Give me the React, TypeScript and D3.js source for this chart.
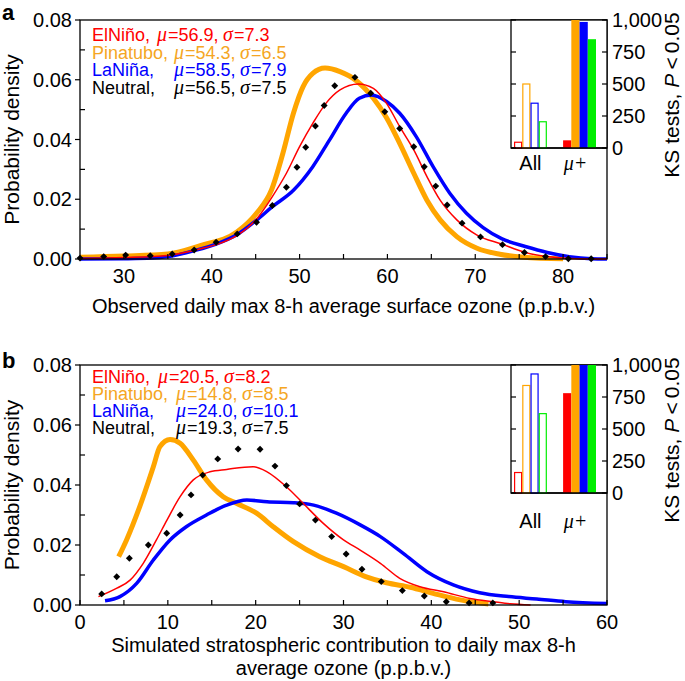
import * as d3 from 'd3';

// ---- panel a: observed MDA8 ozone ----
const elninoA = [[25,0.0002],[30,0.0005],[35,0.0012],[38.7,0.0034],[40.5,0.0048],[42.9,0.0079],[45.1,0.0134],[46.9,0.0209],[48.5,0.0287],[50.0,0.0376],[51.5,0.0454],[53.0,0.0521],[54.6,0.0566],[56.7,0.0586],[58.4,0.0571],[59.9,0.0521],[61.4,0.0443],[63.0,0.0365],[64.5,0.0276],[66.0,0.0197],[67.9,0.0131],[70.2,0.008],[73,0.005],[75.7,0.0022],[78.2,0.0008],[80.7,0.0002],[85,0]];
const pinatuboA = [[25,0.0006],[30,0.001],[35,0.0017],[38.7,0.0045],[42.9,0.0091],[45.1,0.0153],[46.8,0.0231],[48.1,0.0354],[49.3,0.0488],[50.4,0.0577],[51.5,0.0621],[52.9,0.0639],[54.6,0.0627],[56.5,0.0596],[58.4,0.0538],[59.9,0.0473],[61.4,0.0387],[63.0,0.0287],[64.5,0.0197],[66.0,0.0131],[67.9,0.0075],[70.2,0.0036],[72.8,0.0016],[75.5,0.0006],[80,0.0001]];
const laninaA = [[25,0],[30,0.0001],[33.2,0.0003],[35,0.0008],[38,0.0028],[40.5,0.005],[42.9,0.0082],[45.1,0.013],[46.9,0.0175],[49.3,0.023],[51.5,0.0309],[53.4,0.0398],[55.3,0.0488],[56.8,0.0538],[58.2,0.0549],[59.9,0.0527],[61.4,0.0488],[63.3,0.0409],[65.2,0.0309],[67.1,0.022],[69.0,0.0153],[70.9,0.0105],[73,0.0068],[75.7,0.0042],[78.2,0.0022],[80.7,0.0008],[83.2,0.0001],[85,0]];
const neutralA = [[25,0.0003],[27.7,0.0008],[30.2,0.0013],[33,0.0011],[35.5,0.0017],[38,0.003],[40.5,0.0056],[42.9,0.0084],[45.1,0.0123],[46.9,0.0179],[48.5,0.024],[49.7,0.0307],[50.7,0.0374],[51.8,0.0445],[52.8,0.0514],[54.0,0.058],[56.3,0.0608],[58.1,0.0555],[59.7,0.0493],[61.4,0.0437],[63.0,0.0376],[64.2,0.0309],[65.5,0.0244],[66.8,0.0181],[68.5,0.012],[70.6,0.0074],[73.1,0.0048],[75.6,0.0022],[78,0.0008],[80.6,0.0001],[83.2,0.0001]];
const statsA = [['ElNiño', '56.9', '7.3'], ['Pinatubo', '54.3', '6.5'], ['LaNiña', '58.5', '7.9'], ['Neutral', '56.5', '7.5']];
const ksAllA = [45, 500, 350, 205];
const ksMuA = [60, 1000, 985, 850];

// ---- panel b: simulated stratospheric contribution ----
const elninoB = [[2.1,0.0028],[4.2,0.0056],[5.7,0.0083],[7.2,0.0139],[8.7,0.0217],[9.9,0.0283],[11.4,0.0361],[12.9,0.0417],[14.8,0.0444],[16.7,0.0452],[19.7,0.0461],[21.3,0.0444],[23.5,0.0394],[25.4,0.0339],[27.7,0.0272],[30.0,0.0217],[31.9,0.0183],[34.2,0.0139],[36.4,0.0089],[38.7,0.0061],[41.4,0.0044],[44.4,0.0022],[47.1,0.0011],[49.0,0.0004],[51.3,0]];
const pinatuboB = [[4.4,0.0161],[5.3,0.0217],[6.8,0.0328],[8.35,0.0461],[9.1,0.0528],[10.25,0.0552],[11.4,0.0539],[12.9,0.0483],[14.4,0.0417],[16.3,0.0361],[17.8,0.0339],[20.1,0.0306],[22.0,0.0261],[24.3,0.0211],[27.3,0.0161],[30.0,0.0128],[32.6,0.0094],[34.9,0.0074],[37.6,0.0059],[40.2,0.0039],[43.3,0.0017],[46.5,0.0003]];
const laninaB = [[2.85,0.0014],[4.55,0.0028],[6.45,0.0072],[8.35,0.015],[10.25,0.0217],[12.1,0.0261],[14.4,0.03],[16.7,0.0333],[19.0,0.035],[21.3,0.0344],[24.3,0.0341],[26.6,0.0333],[29.2,0.0306],[31.9,0.0267],[34.2,0.0228],[36.8,0.0172],[39.5,0.0111],[42.5,0.0067],[45.5,0.0041],[48.8,0.0028],[52,0.002],[55.3,0.0011],[60,0.0005]];
const neutralB = [[2.47,0.0037],[4.18,0.0094],[5.62,0.0156],[7.78,0.02],[9.87,0.0239],[11.4,0.03],[12.64,0.0367],[13.97,0.0433],[15.68,0.0487],[18.0,0.052],[20.5,0.0519],[22.2,0.0463],[23.5,0.0398],[25.0,0.0337],[26.8,0.0283],[28.65,0.0228],[30.3,0.017],[32.1,0.0119],[34.3,0.0078],[36.7,0.0048],[39.2,0.003],[41.7,0.0011],[44.3,0.0007],[47.0,0.0007]];
const statsB = [['ElNiño', '20.5', '8.2'], ['Pinatubo', '14.8', '8.5'], ['LaNiña', '24.0', '10.1'], ['Neutral', '19.3', '7.5']];
const ksAllB = [160, 840, 930, 620];
const ksMuB = [780, 1000, 1000, 1000];

const insetCats = ['All', 'μ+'];
const yTicks = [0, 0.02, 0.04, 0.06, 0.08];
const yMinor = [0.01, 0.03, 0.05, 0.07];
const ksTicks = [0, 250, 500, 750, 1000];

const colors = ['#ff0000', '#ffa500', '#0000ff', '#000000'];
const legendColors = ['#ff0000', '#f5a623', '#0000ff', '#000000'];
const barColors = ['#ff0000', '#ffa500', '#0000ff', '#00ee00'];

const FONT = "'Liberation Sans', Arial, Helvetica, sans-serif";
const GREEK = "'Liberation Serif', 'Times New Roman', serif";
const LEFT = 80, RIGHT = 607;

const Panel = ({ letter, letterY, bottom, top, xDomain, xTicks, xMinor, curves, dots, stats, muX, legendY, legendStep, ksAll, ksMu, catY, xTitle, titleY }) => {
    const x = d3.scaleLinear().domain(xDomain).range([LEFT, RIGHT]);
    const y = d3.scaleLinear().domain([0, 0.08]).range([bottom, top]);
    const line = d3.line().x((d) => x(d[0])).y((d) => y(d[1])).curve(d3.curveMonotoneX);
    const fmtY = d3.format('.2f');

    const insetLeft = 511;
    const insetBottom = top + 128;
    const iy = d3.scaleLinear().domain([0, 1000]).range([insetBottom, top]);
    const gx = d3.scaleBand().domain(insetCats).range([514, 596]).paddingInner(0.33);
    const sx = d3.scaleBand().domain(d3.range(4).map(String)).range([0, gx.bandwidth()]);
    const diamond = d3.symbol().type(d3.symbolSquare).size(24)();

    // orange first, then blue, red on top
    const order = [1, 2, 0];
    const widths = [1.5, 5, 3.5];

    return (
        <g fontFamily={FONT}>
            <text x={2} y={letterY} fontSize={22} fontWeight="bold">{letter}</text>

            {/* curves */}
            {order.map((i) => (
                <path key={i} d={line(curves[i])} fill="none" stroke={colors[i]} strokeWidth={widths[i]} strokeLinejoin="round" />
            ))}
            {dots.map((d, i) => (
                <path key={i} d={diamond} transform={`translate(${x(d[0])},${y(d[1])}) rotate(45)`} fill="#000" />
            ))}

            {/* frame */}
            <rect x={LEFT} y={top} width={RIGHT - LEFT} height={bottom - top} fill="none" stroke="#000" strokeWidth={1.3} />

            {/* y axis */}
            {yTicks.map((t) => (
                <g key={t}>
                    <line x1={LEFT - 5} x2={LEFT} y1={y(t)} y2={y(t)} stroke="#000" strokeWidth={1.2} />
                    <text x={LEFT - 8} y={y(t) + 7} textAnchor="end" fontSize={20}>{fmtY(t)}</text>
                </g>
            ))}
            {yMinor.map((t) => (
                <line key={t} x1={LEFT} x2={LEFT + 5} y1={y(t)} y2={y(t)} stroke="#000" strokeWidth={1.2} />
            ))}
            <text transform={`translate(19,${(top + bottom) / 2}) rotate(-90)`} textAnchor="middle" fontSize={21}>Probability density</text>

            {/* x axis */}
            {xTicks.map((t) => (
                <g key={t}>
                    <line x1={x(t)} x2={x(t)} y1={bottom} y2={bottom - 5} stroke="#000" strokeWidth={1.2} />
                    <text x={x(t)} y={bottom + 24} textAnchor="middle" fontSize={20}>{t}</text>
                </g>
            ))}
            {xMinor.map((t) => (
                <line key={t} x1={x(t)} x2={x(t)} y1={bottom} y2={bottom - 5} stroke="#000" strokeWidth={1.2} />
            ))}
            {xTitle.map((s, i) => (
                <text key={i} x={(LEFT + RIGHT) / 2} y={titleY + i * 23} textAnchor="middle" fontSize={20}>{s}</text>
            ))}

            {/* legend: name, then mu / sigma pieces on fixed offsets */}
            {stats.map((s, i) => {
                const ly = legendY + i * legendStep;
                const m = i === 0 ? muX[0] : muX[1];
                return (
                    <g key={i} fill={legendColors[i]} fontSize={18}>
                        <text x={92} y={ly}>{s[0] + ','}</text>
                        <text x={m} y={ly} fontFamily={GREEK} fontStyle="italic" fontSize={20}>μ</text>
                        <text x={m + 11} y={ly}>{'=' + s[1] + ','}</text>
                        <text x={m + 66} y={ly} fontFamily={GREEK} fontStyle="italic" fontSize={20}>σ</text>
                        <text x={m + 77} y={ly}>{'=' + s[2]}</text>
                    </g>
                );
            })}

            {/* KS inset */}
            <rect x={insetLeft} y={top} width={RIGHT - insetLeft} height={insetBottom - top} fill="#fff" stroke="#000" strokeWidth={1.3} />
            {insetCats.map((c, g) => (
                <g key={c}>
                    {(g === 0 ? ksAll : ksMu).map((v, i) => (
                        g === 0
                            ? <rect key={i} x={gx(c) + sx(String(i)) + 0.6} y={iy(v)} width={sx.bandwidth() - 1.2} height={insetBottom - iy(v)} fill="#fff" stroke={barColors[i]} strokeWidth={1.2} />
                            : <rect key={i} x={gx(c) + sx(String(i))} y={iy(v)} width={sx.bandwidth()} height={insetBottom - iy(v)} fill={barColors[i]} />
                    ))}
                    <text x={gx(c) + gx.bandwidth() / 2 - (g === 1 ? 4 : 0)} y={catY} textAnchor="middle" fontSize={20}
                        fontFamily={g === 1 ? GREEK : FONT} fontStyle={g === 1 ? 'italic' : 'normal'}>{c}</text>
                </g>
            ))}
            <line x1={insetLeft} x2={RIGHT} y1={insetBottom} y2={insetBottom} stroke="#000" strokeWidth={1.3} />
            {ksTicks.map((t) => (
                <g key={t}>
                    <line x1={RIGHT - 5} x2={RIGHT} y1={iy(t)} y2={iy(t)} stroke="#000" strokeWidth={1.2} />
                    <line x1={insetLeft} x2={insetLeft + 5} y1={iy(t)} y2={iy(t)} stroke="#000" strokeWidth={1.2} />
                    <text x={RIGHT + 5} y={iy(t) + 7} fontSize={20}>{d3.format(',')(t)}</text>
                </g>
            ))}
            <text transform={`translate(679,${top + 75}) rotate(-90)`} textAnchor="middle" fontSize={21}>
                KS tests, <tspan fontStyle="italic">P</tspan>{'\u2009<\u20090.05'}
            </text>
        </g>
    );
};

const App = () => {
    return (
        <svg width={685} height={681} viewBox="0 0 685 681" style={{ position: 'absolute', left: 0, top: 0, background: '#fff' }}>
            <rect width={685} height={681} fill="#fff" />
            <Panel
                letter="a" letterY={20} top={20} bottom={259} xDomain={[25, 85]}
                xTicks={[30, 40, 50, 60, 70, 80]} xMinor={[35, 45, 55, 65, 75, 85]}
                curves={[elninoA, pinatuboA, laninaA]} dots={neutralA} stats={statsA}
                muX={[157, 174]} legendY={41} legendStep={17.7} ksAll={ksAllA} ksMu={ksMuA} catY={170}
                xTitle={['Observed daily max 8-h average surface ozone (p.p.b.v.)']} titleY={313}
            />
            <Panel
                letter="b" letterY={368} top={365} bottom={605} xDomain={[0, 60]}
                xTicks={[0, 10, 20, 30, 40, 50, 60]} xMinor={[5, 15, 25, 35, 45, 55]}
                curves={[elninoB, pinatuboB, laninaB]} dots={neutralB} stats={statsB}
                muX={[158, 176]} legendY={383} legendStep={17} ksAll={ksAllB} ksMu={ksMuB} catY={528}
                xTitle={['Simulated stratospheric contribution to daily max 8-h', 'average ozone (p.p.b.v.)']} titleY={652}
            />
        </svg>
    );
};

export default App;
